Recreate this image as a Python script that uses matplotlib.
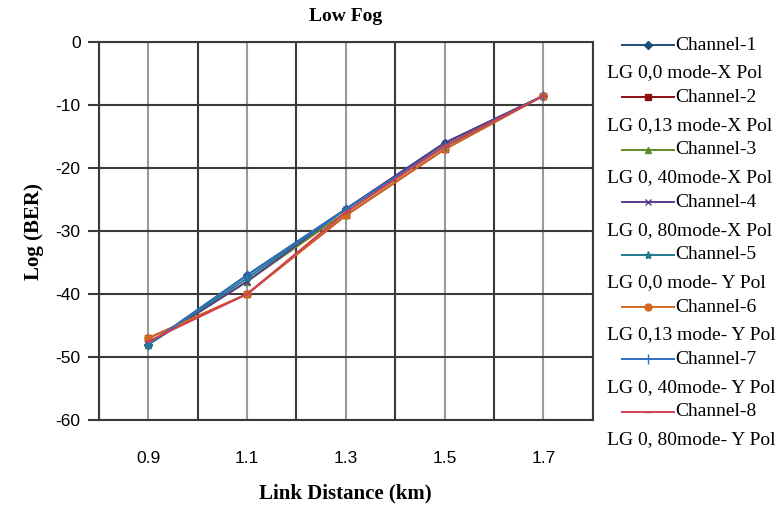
import numpy as np
import matplotlib
matplotlib.use("Agg")
import matplotlib.pyplot as plt
from matplotlib.lines import Line2D

plt.rcParams["axes.unicode_minus"] = False

# Link distance (km) and log(BER) per channel
distance = [0.9, 1.1, 1.3, 1.5, 1.7]
ch1 = [-48, -37, -26.5, -16, -8.5]
ch2 = [-47, -40, -27.5, -17, -8.5]
ch3 = [-48, -38, -27, -16.5, -8.5]
ch4 = [-48, -38, -26.5, -16, -8.5]
ch5 = [-48, -37.5, -26.5, -16.5, -8.5]
ch6 = [-47, -40, -27.5, -17, -8.5]
ch7 = [-48, -37, -26.5, -16.5, -8.5]
ch8 = [-47.5, -40, -27, -16.5, -8.5]

channel_names = ["Channel-1", "Channel-2", "Channel-3", "Channel-4",
                 "Channel-5", "Channel-6", "Channel-7", "Channel-8"]
mode_names = ["LG 0,0 mode-X Pol", "LG 0,13 mode-X Pol", "LG 0, 40mode-X Pol",
              "LG 0, 80mode-X Pol", "LG 0,0 mode- Y Pol", "LG 0,13 mode- Y Pol",
              "LG 0, 40mode- Y Pol", "LG 0, 80mode- Y Pol"]
series = [ch1, ch2, ch3, ch4, ch5, ch6, ch7, ch8]

colors = ["#1F4E79", "#8B1010", "#5E8C2A", "#5B3A8C",
          "#1F7A8C", "#D2691E", "#2F6FBF", "#D04050"]
markers = ["D", "s", "^", "x", "*", "o", "|", "_"]
msizes = [4, 5, 5, 5, 6, 5, 7, 6]

fig = plt.figure(figsize=(7.77, 5.08), dpi=100)
ax = fig.add_axes([0.127, 0.173, 0.636, 0.744])

for ys, c, m, s in zip(series, colors, markers, msizes):
    ax.plot(distance, ys, color=c, marker=m, markersize=s, linewidth=1.4,
            markeredgecolor=c)

ax.set_xlim(0.8, 1.8)
ax.set_ylim(-60, 0)
ax.set_xticks(distance)
ax.set_xticks(np.arange(0.8, 1.81, 0.2), minor=True)
ax.set_yticks(np.arange(-60, 1, 10))

ax.grid(which="major", axis="x", color="#9a9a9a", linewidth=1.5)
ax.grid(which="minor", axis="x", color="#3a3a3a", linewidth=1.5)
ax.grid(which="major", axis="y", color="#3a3a3a", linewidth=1.5)
ax.set_axisbelow(True)

for sp in ax.spines.values():
    sp.set_color("#3a3a3a")
    sp.set_linewidth(1.5)

ax.tick_params(axis="x", which="both", length=0, pad=22, labelsize=12.5)
ax.tick_params(axis="y", which="major", length=8, width=1.5, color="#3a3a3a",
               pad=5, labelsize=12.5)
for lab in ax.get_xticklabels() + ax.get_yticklabels():
    lab.set_family("Liberation Sans")

serif = "Liberation Serif"
ax.set_title("Low Fog", fontfamily=serif, fontweight="bold", fontsize=14, pad=15)
ax.set_xlabel("Link Distance (km)", fontfamily=serif, fontweight="bold",
              fontsize=15, labelpad=13)
ax.set_ylabel("Log (BER)", fontfamily=serif, fontweight="bold",
              fontsize=15, labelpad=8)

# legend drawn by hand: handle + channel name, mode name on the next line
W, H = 777.0, 508.0
for i, (name, mode, c, m, s) in enumerate(zip(channel_names, mode_names,
                                              colors, markers, msizes)):
    y_ch = 45 + i * 52.4
    y_md = y_ch + 28
    fig.add_artist(Line2D([622 / W, 674 / W], [1 - y_ch / H, 1 - y_ch / H],
                          color=c, linewidth=1.4, transform=fig.transFigure))
    fig.add_artist(Line2D([648 / W], [1 - y_ch / H], color=c, marker=m,
                          markersize=s, markeredgecolor=c,
                          transform=fig.transFigure))
    fig.text(675 / W, 1 - y_ch / H, name, fontfamily=serif, fontsize=14,
             va="center", ha="left")
    fig.text(607 / W, 1 - y_md / H, mode, fontfamily=serif, fontsize=14,
             va="center", ha="left")

fig.savefig("out.png", dpi=100)
